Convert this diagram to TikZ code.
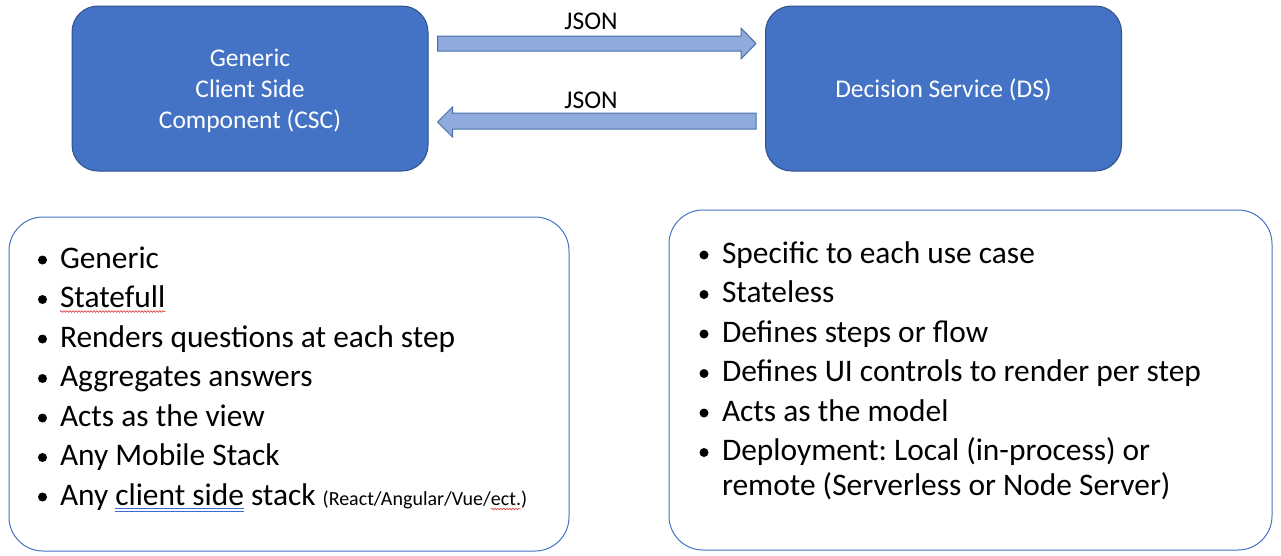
\documentclass[tikz,border=0pt]{standalone}
\usepackage{fontspec}
\setmainfont{Carlito}
\frenchspacing
\usetikzlibrary{calc,decorations.pathmorphing}
\definecolor{boxblue}{HTML}{4472C4}
\definecolor{boxedge}{HTML}{2F528F}
\definecolor{arrfill}{HTML}{8FAADC}
\definecolor{arredge}{HTML}{4A70A8}
\definecolor{panedge}{HTML}{4472C4}
\definecolor{spellred}{HTML}{E04848}
\definecolor{gramblue}{HTML}{3F68D8}
\begin{document}
\begin{tikzpicture}[x=1pt,y=-1pt,
  comp/.style={draw=boxedge, line width=1pt, fill=boxblue, rounded corners=26pt,
    minimum width=356pt, minimum height=165pt, inner sep=0pt},
  comptext/.style={text=white, font=\fontsize{25.5}{31}\selectfont, align=center, inner sep=0pt},
  panel/.style={draw=panedge, line width=1pt, fill=white, rounded corners=34pt, inner sep=0pt},
  blockarrow/.style={draw=arredge, line width=1pt, fill=arrfill},
  lbl/.style={font=\fontsize{25.5}{31}\selectfont, anchor=base, inner sep=0pt},
  item/.style={font=\fontsize{31.4}{35}\selectfont, anchor=base west, inner sep=0pt, outer sep=0pt},
  smallitem/.style={font=\fontsize{20}{24}\selectfont, anchor=base west, inner sep=0pt, outer sep=0pt},
  dot/.style={fill=black},
  wavy/.style={draw=spellred, line width=0.7pt, decorate,
    decoration={snake, amplitude=0.8pt, segment length=3pt}},
  dblul/.style={draw=gramblue, line width=0.8pt}
]
\useasboundingbox (0,0) rectangle (1281,555);

% component boxes
\node[comp] (csc) at (250,88.5) {};
\node[comptext] (csct) at ($(csc.center)+(0,2.5)$) {Generic\\Client Side\\Component (CSC)};
\node[comp] (ds) at (943.5,88.5) {};
\node[comptext] (dst) at ($(ds.center)+(0,1)$) {Decision Service (DS)};

% block arrows
\coordinate (aL) at ($(csc.east)+(9,0)$);
\coordinate (aR) at ($(ds.west)+(-9,0)$);
\draw[blockarrow] ($(aL)+(0,-52.5)$) -- ($(aR)+(-15,-52.5)$) -- ($(aR)+(-15,-60.5)$)
  -- ($(aR)+(0,-45)$) -- ($(aR)+(-15,-29.5)$) -- ($(aR)+(-15,-37.5)$)
  -- ($(aL)+(0,-37.5)$) -- cycle;
\draw[blockarrow] ($(aR)+(0,24.5)$) -- ($(aL)+(15,24.5)$) -- ($(aL)+(15,18.5)$)
  -- ($(aL)+(0,33.5)$) -- ($(aL)+(15,48.5)$) -- ($(aL)+(15,40.5)$)
  -- ($(aR)+(0,40.5)$) -- cycle;
\node[lbl] (j1) at (591,29) {JSON};
\node[lbl] (j2) at (591,108) {JSON};

% panels
\node[panel, minimum width=560pt, minimum height=334pt] (lp) at (289,384) {};
\node[panel, minimum width=603pt, minimum height=340pt] (rp) at (970.5,380) {};

% left list
\foreach \i in {0,...,6} {
  \fill[dot] (42.5,{260+39.5*\i}) circle (4.5pt);
}
\node[item] (l1) at (60,268) {Generic};
\node[item] (l2) at (60,307.5) {Statefull};
\node[item] (l3) at (60,347) {Renders questions at each step};
\node[item] (l4) at (60,386.5) {Aggregates answers};
\node[item] (l5) at (60,426) {Acts as the view};
\node[item] (l6) at (60,465.5) {Any Mobile Stack};
\node[item] (l7a) at (60,505) {Any};
\node[item] (l7b) at ($(l7a.base east)+(7,0)$) {client side};
\node[item] (l7c) at ($(l7b.base east)+(7,0)$) {stack};
\node[smallitem] (l7d) at ($(l7c.base east)+(7,0)$) {(React/Angular/Vue/};
\node[smallitem] (l7e) at (l7d.base east) {ect.};
\node[smallitem] (l7f) at (l7e.base east) {)};
\draw[wavy] ($(l2.base west)+(0,4)$) -- ($(l2.base east)+(0,4)$);
\draw[dblul] ($(l7b.base west)+(0,3.5)$) -- ($(l7b.base east)+(0,3.5)$);
\draw[dblul] ($(l7b.base west)+(0,6.5)$) -- ($(l7b.base east)+(0,6.5)$);
\draw[wavy] ($(l7e.base west)+(0,4)$) -- ($(l7e.base east)+(0,4)$);

% right list
\foreach \i in {0,...,5} {
  \fill[dot] (704,{255+39.5*\i}) circle (4.5pt);
}
\node[item] (r1) at (722,263) {Specific to each use case};
\node[item] (r2) at (722,302.5) {Stateless};
\node[item] (r3) at (722,342) {Defines steps or flow};
\node[item] (r4) at (722,381.5) {Defines UI controls to render per step};
\node[item] (r5) at (722,421) {Acts as the model};
\node[item] (r6) at (722,460.5) {Deployment: Local (in-process) or};
\node[item] (r7) at (722,495.5) {remote (Serverless or Node Server)};
\end{tikzpicture}
\end{document}
